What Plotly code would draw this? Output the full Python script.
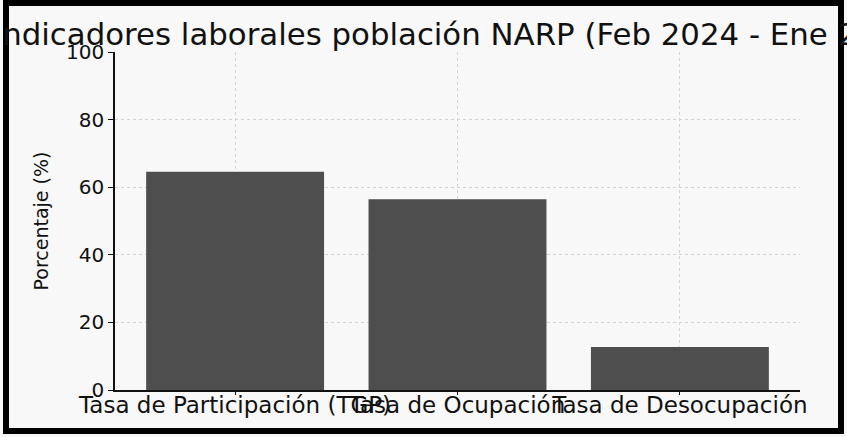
import plotly.graph_objects as go

categories = ["Tasa de Participación (TGP)", "Tasa de Ocupación", "Tasa de Desocupación"]
values = [64.6, 56.4, 12.7]
y_ticks = [0, 20, 40, 60, 80, 100]
title_text = "Indicadores laborales población NARP (Feb 2024 - Ene 2025)"

W, H = 847, 437
ML, MR, MT, MB = 115, 47, 52, 47
PW, PH = W - ML - MR, H - MT - MB

fig = go.Figure()
fig.add_trace(go.Bar(
    x=[0, 1, 2], y=values, width=0.8,
    marker=dict(color="#4e4e4e", line=dict(width=0)),
))

fig.update_layout(
    width=W, height=H,
    margin=dict(l=ML, r=MR, t=MT, b=MB, pad=0),
    paper_bgcolor="#f8f8f8", plot_bgcolor="#f8f8f8",
    showlegend=False,
    font=dict(family="DejaVu Sans", color="#111111"),
    title=dict(text=title_text, x=0.5044, xref="paper", xanchor="center",
               y=1 - 34 / H, yref="container", yanchor="middle",
               font=dict(size=30.8, family="DejaVu Sans", color="#111111")),
)
fig.update_xaxes(
    range=[-0.54, 2.54], tickmode="array", tickvals=[0, 1, 2], ticktext=categories,
    tickangle=0, tickfont=dict(size=23, family="DejaVu Sans", color="#111111"),
    showline=True, linecolor="#111111", linewidth=1.5,
    ticks="outside", ticklen=3, tickcolor="#111111", ticklabelstandoff=-9,
    showgrid=True, gridcolor="#d4d4d4", griddash="dot", gridwidth=1,
    zeroline=False,
)
fig.update_yaxes(
    range=[0, 100], tickmode="array", tickvals=y_ticks,
    tickfont=dict(size=20, family="DejaVu Sans", color="#111111"),
    showline=True, linecolor="#111111", linewidth=1.5,
    ticks="outside", ticklen=5, tickcolor="#111111",
    showgrid=True, gridcolor="#d4d4d4", griddash="dot", gridwidth=1,
    zeroline=False,
    title=dict(text="Porcentaje (%)", font=dict(size=19, family="DejaVu Sans", color="#111111"),
               standoff=12),
)

# photographed frame around the chart (pixel positions converted to paper units)
fig.add_shape(type="rect", xref="paper", yref="paper",
              x0=(6 - ML) / PW, x1=(841 - ML) / PW,
              y0=(H - MB - 431) / PH, y1=(H - MB - 3) / PH,
              line=dict(color="#000000", width=6), layer="above")

fig.write_html("out.html", config={"displayModeBar": False},
               post_script="document.body.style.margin='0';")
